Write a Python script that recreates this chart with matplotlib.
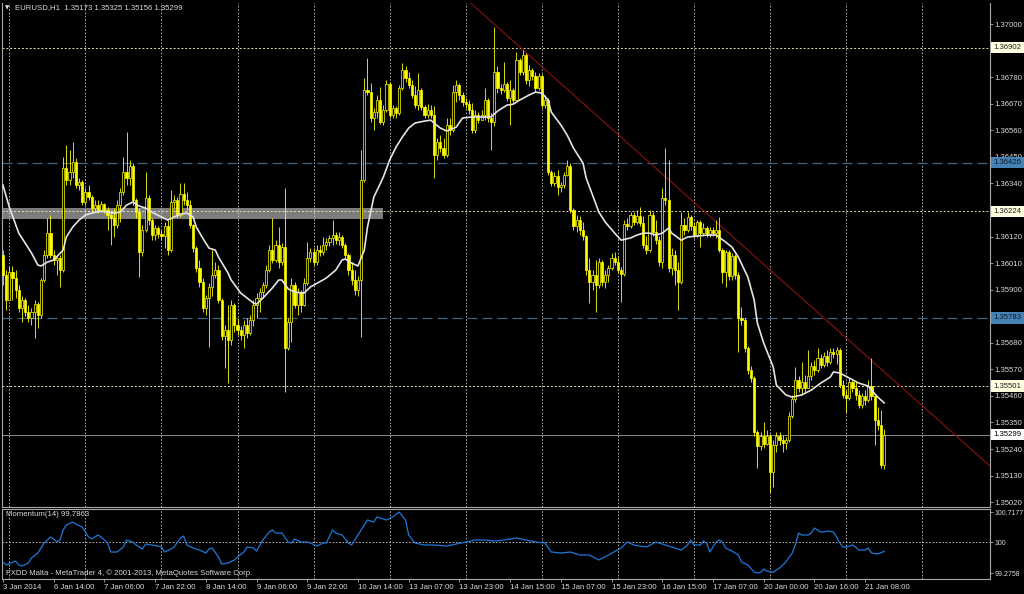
import numpy as np
import matplotlib
matplotlib.use("Agg")
import matplotlib.pyplot as plt
from matplotlib.transforms import blended_transform_factory

# ---- EURUSD H1 candles (bar 0 = first visible bar) ----
first_open = 1.36043
closes = [
    1.35961, 1.35857, 1.35973, 1.35948, 1.35898, 1.35824, 1.35857, 1.35807, 1.35783, 1.35807,
    1.35840, 1.35795, 1.35940, 1.36043, 1.36134, 1.36043, 1.36023, 1.36031, 1.35981, 1.36404,
    1.36354, 1.36387, 1.36428, 1.36333, 1.36346, 1.36263, 1.36304, 1.36283, 1.36238, 1.36250,
    1.36230, 1.36254, 1.36230, 1.36209, 1.36196, 1.36168, 1.36250, 1.36304, 1.36387, 1.36362,
    1.36412, 1.36271, 1.36221, 1.36056, 1.36147, 1.36279, 1.36188, 1.36126, 1.36155, 1.36130,
    1.36122, 1.36163, 1.36064, 1.36263, 1.36271, 1.36209, 1.36296, 1.36271, 1.36250, 1.36168,
    1.36072, 1.35990, 1.35932, 1.35824, 1.35865, 1.35911, 1.35961, 1.35981, 1.35857, 1.35708,
    1.35733, 1.35691, 1.35836, 1.35754, 1.35733, 1.35712, 1.35754, 1.35720, 1.35774, 1.35836,
    1.35865, 1.35890, 1.35919, 1.35981, 1.36064, 1.36023, 1.36085, 1.36014, 1.36076, 1.35658,
    1.35766, 1.35919, 1.35836, 1.35890, 1.35836, 1.35927, 1.36031, 1.36056, 1.36014, 1.36064,
    1.36056, 1.36085, 1.36097, 1.36114, 1.36126, 1.36105, 1.36118, 1.36085, 1.36043, 1.35981,
    1.35940, 1.35898, 1.35940, 1.36354, 1.36726, 1.36718, 1.36611, 1.36635, 1.36685, 1.36594,
    1.36644, 1.36751, 1.36623, 1.36652, 1.36631, 1.36735, 1.36809, 1.36776, 1.36747, 1.36706,
    1.36664, 1.36726, 1.36656, 1.36623, 1.36644, 1.36623, 1.36457, 1.36511, 1.36486, 1.36457,
    1.36582, 1.36561, 1.36718, 1.36747, 1.36706, 1.36677, 1.36668, 1.36644, 1.36561, 1.36623,
    1.36602, 1.36623, 1.36685, 1.36611, 1.36594, 1.36801, 1.36735, 1.36726, 1.36751, 1.36693,
    1.36726, 1.36685, 1.36851, 1.36801, 1.36871, 1.36768, 1.36809, 1.36784, 1.36735, 1.36784,
    1.36664, 1.36685, 1.36387, 1.36341, 1.36370, 1.36325, 1.36333, 1.36375, 1.36412, 1.36230,
    1.36163, 1.36188, 1.36147, 1.36122, 1.35981, 1.35932, 1.35961, 1.35919, 1.36014, 1.35932,
    1.35961, 1.35990, 1.36031, 1.36014, 1.35981, 1.35965, 1.36172, 1.36163, 1.36209, 1.36180,
    1.36205, 1.36176, 1.36085, 1.36064, 1.36209, 1.36139, 1.36105, 1.36014, 1.36279, 1.36271,
    1.35990, 1.36043, 1.35981, 1.35932, 1.36168, 1.36147, 1.36201, 1.36163, 1.36126, 1.36180,
    1.36134, 1.36155, 1.36130, 1.36147, 1.36134, 1.36147, 1.36064, 1.35973, 1.36056, 1.35956,
    1.36039, 1.35961, 1.35783, 1.35774, 1.35658, 1.35567, 1.35534, 1.35311, 1.35253, 1.35294,
    1.35261, 1.35294, 1.35145, 1.35257, 1.35294, 1.35277, 1.35265, 1.35277, 1.35377, 1.35447,
    1.35526, 1.35493, 1.35518, 1.35493, 1.35542, 1.35584, 1.35567, 1.35617, 1.35588, 1.35625,
    1.35600, 1.35642, 1.35633, 1.35650, 1.35505, 1.35464, 1.35451, 1.35518, 1.35493, 1.35464,
    1.35422, 1.35460, 1.35443, 1.35501, 1.35460, 1.35360, 1.35340, 1.35173, 1.35299,
]
highs = [
    1.36064, 1.35981, 1.35998, 1.35998, 1.35981, 1.35919, 1.35874, 1.35865, 1.35836, 1.35824,
    1.35857, 1.35849, 1.35948, 1.36064, 1.36196, 1.36209, 1.36064, 1.36043, 1.36043, 1.36449,
    1.36499, 1.36478, 1.36511, 1.36445, 1.36362, 1.36354, 1.36321, 1.36333, 1.36292, 1.36271,
    1.36271, 1.36267, 1.36259, 1.36242, 1.36230, 1.36238, 1.36271, 1.36321, 1.36449, 1.36553,
    1.36437, 1.36424, 1.36279, 1.36238, 1.36168, 1.36387, 1.36292, 1.36196, 1.36168, 1.36163,
    1.36147, 1.36180, 1.36188, 1.36312, 1.36292, 1.36283, 1.36341, 1.36341, 1.36304, 1.36271,
    1.36172, 1.36081, 1.36023, 1.35948, 1.35878, 1.35927, 1.36064, 1.36014, 1.36002, 1.35865,
    1.35754, 1.35836, 1.35857, 1.35845, 1.35783, 1.35749, 1.35774, 1.35783, 1.35795, 1.35857,
    1.35886, 1.35907, 1.35932, 1.36002, 1.36085, 1.36196, 1.36105, 1.36159, 1.36093, 1.36321,
    1.35783, 1.35948, 1.35932, 1.35907, 1.35898, 1.35948, 1.36097, 1.36072, 1.36072, 1.36085,
    1.36085, 1.36118, 1.36114, 1.36126, 1.36188, 1.36139, 1.36139, 1.36126, 1.36093, 1.36052,
    1.36014, 1.35981, 1.35956, 1.36478, 1.36776, 1.36859, 1.36755, 1.36652, 1.36706, 1.36739,
    1.36664, 1.36768, 1.36760, 1.36664, 1.36660, 1.36747, 1.36838, 1.36826, 1.36801, 1.36768,
    1.36743, 1.36797, 1.36735, 1.36664, 1.36668, 1.36664, 1.36660, 1.36528, 1.36540, 1.36528,
    1.36611, 1.36611, 1.36747, 1.36768, 1.36755, 1.36718, 1.36693, 1.36685, 1.36673, 1.36644,
    1.36635, 1.36644, 1.36735, 1.36693, 1.36631, 1.36987, 1.36826, 1.36751, 1.36842, 1.36760,
    1.36768, 1.36735, 1.36884, 1.36859, 1.36892, 1.36880, 1.36830, 1.36817, 1.36801, 1.36797,
    1.36793, 1.36706, 1.36693, 1.36395, 1.36387, 1.36395, 1.36346, 1.36387, 1.36437, 1.36424,
    1.36238, 1.36209, 1.36205, 1.36180, 1.36126, 1.36031, 1.35981, 1.36023, 1.36031, 1.36023,
    1.35981, 1.36002, 1.36052, 1.36056, 1.36039, 1.35994, 1.36188, 1.36196, 1.36221, 1.36221,
    1.36230, 1.36242, 1.36205, 1.36122, 1.36230, 1.36221, 1.36188, 1.36122, 1.36321, 1.36486,
    1.36437, 1.36072, 1.36064, 1.36014, 1.36221, 1.36196, 1.36221, 1.36209, 1.36180, 1.36188,
    1.36188, 1.36176, 1.36163, 1.36159, 1.36159, 1.36188, 1.36201, 1.36072, 1.36064, 1.36064,
    1.36052, 1.36047, 1.35973, 1.35828, 1.35783, 1.35667, 1.35584, 1.35542, 1.35319, 1.35311,
    1.35352, 1.35319, 1.35302, 1.35277, 1.35311, 1.35311, 1.35298, 1.35290, 1.35393, 1.35464,
    1.35580, 1.35542, 1.35600, 1.35546, 1.35650, 1.35600, 1.35609, 1.35658, 1.35633, 1.35642,
    1.35650, 1.35658, 1.35658, 1.35662, 1.35658, 1.35526, 1.35484, 1.35534, 1.35526, 1.35518,
    1.35484, 1.35472, 1.35484, 1.35526, 1.35617, 1.35464, 1.35414, 1.35402, 1.35325,
]
lows = [
    1.35919, 1.35816, 1.35857, 1.35857, 1.35865, 1.35807, 1.35766, 1.35791, 1.35766, 1.35754,
    1.35700, 1.35741, 1.35783, 1.35932, 1.36031, 1.36031, 1.36002, 1.35961, 1.35911, 1.35973,
    1.36333, 1.36333, 1.36362, 1.36321, 1.36312, 1.36250, 1.36250, 1.36271, 1.36221, 1.36221,
    1.36217, 1.36221, 1.36217, 1.36147, 1.36085, 1.36118, 1.36155, 1.36180, 1.36292, 1.36333,
    1.36333, 1.36250, 1.36196, 1.35952, 1.36039, 1.36139, 1.36168, 1.36105, 1.36105, 1.36114,
    1.36105, 1.36072, 1.36043, 1.36056, 1.36238, 1.36196, 1.36201, 1.36250, 1.36230, 1.36155,
    1.36056, 1.35973, 1.35911, 1.35807, 1.35795, 1.35662, 1.35874, 1.35948, 1.35845, 1.35691,
    1.35575, 1.35513, 1.35671, 1.35725, 1.35712, 1.35691, 1.35658, 1.35700, 1.35712, 1.35749,
    1.35783, 1.35807, 1.35865, 1.35907, 1.35973, 1.36010, 1.36014, 1.35990, 1.36002, 1.35476,
    1.35650, 1.35683, 1.35824, 1.35795, 1.35807, 1.35832, 1.35919, 1.36014, 1.36002, 1.36002,
    1.36039, 1.36043, 1.36064, 1.36081, 1.36085, 1.36089, 1.36085, 1.36072, 1.36031, 1.35961,
    1.35919, 1.35878, 1.35874, 1.35704, 1.36346, 1.36706, 1.36594, 1.36561, 1.36611, 1.36586,
    1.36582, 1.36635, 1.36611, 1.36611, 1.36611, 1.36623, 1.36726, 1.36760, 1.36735, 1.36693,
    1.36652, 1.36644, 1.36644, 1.36611, 1.36611, 1.36611, 1.36362, 1.36437, 1.36470, 1.36445,
    1.36449, 1.36540, 1.36553, 1.36677, 1.36685, 1.36660, 1.36652, 1.36627, 1.36548, 1.36548,
    1.36590, 1.36602, 1.36602, 1.36594, 1.36478, 1.36577, 1.36714, 1.36710, 1.36718, 1.36681,
    1.36582, 1.36673, 1.36685, 1.36789, 1.36789, 1.36751, 1.36743, 1.36768, 1.36718, 1.36726,
    1.36652, 1.36652, 1.36375, 1.36329, 1.36329, 1.36292, 1.36304, 1.36321, 1.36370, 1.36217,
    1.36147, 1.36139, 1.36126, 1.36105, 1.35961, 1.35845, 1.35898, 1.35807, 1.35907, 1.35915,
    1.35907, 1.35932, 1.35981, 1.36002, 1.35969, 1.35849, 1.35956, 1.36147, 1.36155, 1.36168,
    1.36172, 1.36163, 1.36072, 1.36047, 1.36056, 1.36122, 1.36089, 1.35998, 1.35990, 1.36250,
    1.35973, 1.35961, 1.35919, 1.35816, 1.35923, 1.36126, 1.36139, 1.36147, 1.36114, 1.36118,
    1.36076, 1.36122, 1.36118, 1.36118, 1.36122, 1.36114, 1.36056, 1.35927, 1.35911, 1.35940,
    1.35940, 1.35944, 1.35642, 1.35754, 1.35642, 1.35551, 1.35518, 1.35294, 1.35162, 1.35236,
    1.35244, 1.35257, 1.35062, 1.35083, 1.35228, 1.35257, 1.35228, 1.35240, 1.35269, 1.35369,
    1.35435, 1.35476, 1.35464, 1.35476, 1.35493, 1.35526, 1.35546, 1.35559, 1.35575, 1.35580,
    1.35584, 1.35592, 1.35617, 1.35592, 1.35493, 1.35451, 1.35393, 1.35443, 1.35476, 1.35443,
    1.35410, 1.35410, 1.35422, 1.35435, 1.35443, 1.35257, 1.35319, 1.35162, 1.35156,
]

# ---- moving average (white line) ----
ma_bar = [0, 2, 5, 9, 11, 12, 14, 16, 19, 20, 22, 24, 26, 28, 31, 33, 35, 37, 39, 41,
          43, 45, 47, 50, 52, 54, 56, 58, 60, 61, 63, 65, 67, 68, 71, 72, 75, 79, 80, 82,
          85, 87, 88, 90, 92, 95, 97, 102, 105, 107, 108, 110, 112, 114, 115, 117, 120, 122, 124, 126,
          128, 130, 133, 135, 136, 138, 140, 143, 145, 148, 150, 154, 156, 159, 161, 163, 166, 168, 170, 172,
          173, 176, 178, 180, 183, 184, 186, 188, 190, 193, 195, 198, 200, 202, 204, 206, 208, 210, 211, 214,
          216, 219, 222, 225, 228, 230, 232, 235, 237, 238, 240, 243, 244, 247, 249, 252, 255, 258, 261, 262,
          264, 267, 270, 273, 274, 276, 278]
ma_val = [1.36333, 1.36242, 1.36134, 1.36052, 1.36002, 1.35998, 1.36014, 1.36023, 1.36064, 1.36118,
          1.36159, 1.36188, 1.36209, 1.36217, 1.36225, 1.36221, 1.36217, 1.36221, 1.36250, 1.36263,
          1.36246, 1.36238, 1.36221, 1.36201, 1.36188, 1.36201, 1.36213, 1.36217, 1.36201, 1.36159,
          1.36114, 1.36072, 1.36064, 1.36035, 1.35969, 1.35940, 1.35886, 1.35845, 1.35840, 1.35865,
          1.35907, 1.35940, 1.35940, 1.35903, 1.35890, 1.35886, 1.35911, 1.35948, 1.35981, 1.36023,
          1.36027, 1.36010, 1.35998, 1.36064, 1.36159, 1.36283, 1.36366, 1.36437, 1.36490, 1.36532,
          1.36569, 1.36590, 1.36598, 1.36602, 1.36590, 1.36569, 1.36557, 1.36573, 1.36611, 1.36615,
          1.36615, 1.36615, 1.36639, 1.36664, 1.36668, 1.36685, 1.36706, 1.36718, 1.36714, 1.36685,
          1.36635, 1.36582, 1.36540, 1.36486, 1.36424, 1.36362, 1.36292, 1.36221, 1.36180, 1.36134,
          1.36105, 1.36114, 1.36126, 1.36134, 1.36134, 1.36126, 1.36134, 1.36155, 1.36134, 1.36105,
          1.36118, 1.36122, 1.36126, 1.36126, 1.36097, 1.36076, 1.36035, 1.35952, 1.35857, 1.35762,
          1.35679, 1.35580, 1.35505, 1.35464, 1.35455, 1.35464, 1.35484, 1.35513, 1.35538, 1.35559,
          1.35555, 1.35534, 1.35513, 1.35501, 1.35484, 1.35455, 1.35431]

# ---- Momentum(14) ----
mom_bar = [0, 1, 4, 5, 6, 8, 9, 11, 12, 13, 15, 16, 17, 18, 19, 20, 22, 23, 25, 26,
           27, 28, 30, 31, 33, 34, 36, 38, 39, 41, 42, 44, 45, 47, 49, 50, 51, 53, 54, 56,
           57, 58, 60, 62, 64, 65, 66, 68, 69, 71, 73, 74, 76, 77, 79, 80, 82, 84, 85, 86,
           88, 90, 91, 92, 94, 96, 97, 99, 101, 102, 104, 105, 107, 109, 110, 113, 115, 117, 118, 121,
           123, 125, 127, 128, 130, 133, 136, 140, 143, 146, 149, 152, 155, 158, 162, 165, 168, 171, 173, 176,
           179, 182, 185, 188, 191, 195, 197, 199, 203, 206, 209, 212, 214, 216, 217, 218, 220, 221, 222, 223,
           225, 226, 227, 228, 230, 232, 233, 235, 237, 238, 239, 240, 241, 243, 244, 245, 246, 247, 249, 250,
           251, 252, 254, 255, 256, 258, 259, 260, 262, 263, 264, 265, 266, 268, 269, 270, 272, 273, 274, 276,
           278]
mom_val = [99.536, 99.465, 99.559, 99.465, 99.441, 99.512, 99.630, 99.748, 99.867, 99.985,
           100.127, 100.080, 100.009, 100.056, 100.292, 100.410, 100.481, 100.434, 100.363, 100.245,
           100.127, 100.080, 100.174, 100.127, 99.985, 99.772, 99.772, 99.890, 100.056, 100.009,
           99.938, 99.843, 99.961, 99.938, 99.914, 99.890, 99.772, 99.843, 99.890, 100.103,
           100.151, 99.938, 99.867, 99.819, 99.748, 99.843, 99.867, 99.654, 99.488, 99.512,
           99.583, 99.654, 99.772, 99.890, 99.867, 99.796, 100.056, 100.245, 100.292, 100.221,
           100.221, 100.009, 99.985, 100.080, 100.009, 100.009, 99.985, 99.914, 99.985, 99.985,
           100.292, 100.221, 100.174, 99.985, 99.938, 100.292, 100.529, 100.481, 100.600, 100.529,
           100.600, 100.7177, 100.529, 100.174, 99.985, 99.938, 99.938, 99.914, 99.961, 100.009,
           100.056, 100.056, 100.032, 100.056, 100.103, 100.056, 100.009, 99.985, 99.772, 99.748,
           99.772, 99.701, 99.701, 99.583, 99.701, 99.867, 100.009, 99.938, 99.890, 100.009,
           99.938, 99.867, 99.819, 99.938, 100.056, 99.938, 99.938, 100.032, 99.985, 99.772,
           100.009, 100.056, 100.009, 99.867, 99.796, 99.701, 99.536, 99.465, 99.299, 99.2758,
           99.290, 99.370, 99.323, 99.290, 99.347, 99.394, 99.465, 99.536, 99.748, 99.938,
           100.221, 100.174, 100.174, 100.221, 100.340, 100.245, 100.245, 100.269, 100.245, 100.127,
           99.985, 99.890, 99.890, 99.938, 99.890, 99.819, 99.819, 99.867, 99.748, 99.725,
           99.7863]

# ---- chart objects ----
hl_yellow = [1.36902, 1.36224, 1.35501]      # dotted horizontal lines
hl_blue = [1.36426, 1.35783]                  # dashed horizontal lines
bid_price = 1.35299
band_price = (1.36191, 1.36237)               # grey rectangle
band_bars = (-1, 120)
trend_bars = (154, 284)
trend_prices = (1.37011, 1.35490)

price_ticks = [1.37000, 1.36780, 1.36670, 1.36560, 1.36450, 1.36340, 1.36120, 1.36010,
               1.35900, 1.35680, 1.35570, 1.35460, 1.35350, 1.35240, 1.35130, 1.35020]
mom_ticks = [99.2758, 100.0, 100.7177]
mom_tick_labels = ["99.2758", "100", "100.7177"]
time_labels = ["3 Jan 2014", "6 Jan 14:00", "7 Jan 06:00", "7 Jan 22:00", "8 Jan 14:00",
               "9 Jan 06:00", "9 Jan 22:00", "10 Jan 14:00", "13 Jan 07:00", "13 Jan 23:00",
               "14 Jan 15:00", "15 Jan 07:00", "15 Jan 23:00", "16 Jan 15:00", "17 Jan 07:00",
               "20 Jan 00:00", "20 Jan 16:00", "21 Jan 08:00"]
time_label_step = 16
grid_step = 24

plt.rcParams['font.family'] = ['Liberation Sans', 'DejaVu Sans']

W, H = 1024, 594
fig = plt.figure(figsize=(W / 100, H / 100), dpi=100, facecolor='black')


def px_box(x0, y0, x1, y1):
    return [x0 / W, 1 - y1 / H, (x1 - x0) / W, (y1 - y0) / H]


ax = fig.add_axes(px_box(2, 3, 990, 507))
axm = fig.add_axes(px_box(2, 509, 990, 579))

closes = np.array(closes)
highs = np.array(highs)
lows = np.array(lows)
opens = np.r_[first_open, closes[:-1]]
idx = np.arange(len(closes))
highs = np.maximum(highs, np.maximum(opens, closes))
lows = np.minimum(lows, np.minimum(opens, closes))

frame_col = '#A8A8A8'
txt_col = '#DADADA'
grid_col = '#C8C8C8'
fs = 5.6

for a in (ax, axm):
    a.set_facecolor('black')
    a.set_xlim(-0.3, 311.4)
    for s in a.spines.values():
        s.set_color(frame_col)
        s.set_linewidth(0.8)
    a.spines['top'].set_visible(a is axm)
    a.yaxis.tick_right()
    a.tick_params(axis='y', colors=frame_col, labelcolor=txt_col, labelsize=fs,
                  length=2.2, width=0.6, pad=1.0)
    a.tick_params(axis='x', colors=frame_col, labelcolor=txt_col, labelsize=fs,
                  length=2.2, width=0.6, pad=1.5)
    for b in range(2, 312, grid_step):
        a.axvline(b, color=grid_col, lw=0.6, ls=(0, (2, 2)), zorder=1)

ax.set_ylim(1.35000, 1.37087)
axm.set_ylim(99.134, 100.789)
ax.set_xticks([])

# background objects
ax.fill_between(band_bars, band_price[0], band_price[1], color='#7C7C7C', lw=0, zorder=0.5)
for p in hl_yellow:
    ax.axhline(p, color='#E6E2B4', lw=0.7, ls=(0, (2, 2)), zorder=1.2)
for p in hl_blue:
    ax.axhline(p, color='#3E6484', lw=0.9, ls=(0, (8, 4)), zorder=1.2)
ax.axhline(bid_price, color='#8A8A8A', lw=0.7, zorder=1.2)
ax.axline((trend_bars[0], trend_prices[0]), (trend_bars[1], trend_prices[1]),
          color='#8B1010', lw=0.8, zorder=1.3)

# candles
yellow = '#FFFF00'
up = closes >= opens
ax.vlines(idx, lows, highs, color=yellow, lw=0.6, zorder=2)
ax.bar(idx[up], closes[up] - opens[up], bottom=opens[up], width=0.68,
       color='black', edgecolor=yellow, lw=0.5, zorder=3)
ax.bar(idx[~up], closes[~up] - opens[~up], bottom=opens[~up], width=0.68,
       color=yellow, edgecolor=yellow, lw=0.5, zorder=3)

ax.plot(ma_bar, ma_val, color='#E4E4E4', lw=1.2, zorder=4)

# price scale
ax.set_yticks(price_ticks)
ax.set_yticklabels([f"{v:.5f}" for v in price_ticks])
ytr = blended_transform_factory(ax.transAxes, ax.transData)
boxes = [(p, '#FFFFE0', '#202020') for p in hl_yellow] + \
        [(p, '#4682B4', '#0A1A2A') for p in hl_blue] + [(bid_price, '#FFFFFF', '#000000')]
for p, fc, tc in boxes:
    ax.text(1.0035, p, f"{p:.5f}", transform=ytr, ha='left', va='center', fontsize=fs,
            color=tc, zorder=6, clip_on=False,
            bbox=dict(boxstyle='square,pad=0.28', fc=fc, ec='none'))

# momentum window
axm.axhline(100.0, color=grid_col, lw=0.6, ls=(0, (2, 2)), zorder=1)
axm.plot(mom_bar, mom_val, color='#1E78D8', lw=0.9, zorder=3)
axm.set_yticks(mom_ticks)
axm.set_yticklabels(mom_tick_labels)
axm.tick_params(axis='y', labelsize=5.0, pad=0.8)
axm.set_xticks(idx[::time_label_step])
axm.set_xticklabels(time_labels, ha='left')

# texts
fig.text(5 / W, 1 - 8 / H, "\u25BC", color=txt_col, fontsize=4, va='center',
         family=['DejaVu Sans'])
head = "EURUSD,H1  {:.5f} {:.5f} {:.5f} {:.5f}".format(opens[-1], highs[-1], lows[-1], closes[-1])
fig.text(15 / W, 1 - 8 / H, head, color=txt_col, fontsize=fs, va='center')
fig.text(6 / W, 1 - 515 / H, f"Momentum(14) {mom_val[-1]:.4f}", color=txt_col,
         fontsize=fs, va='center')
fig.text(6 / W, 1 - 573 / H, "FXDD Malta - MetaTrader 4, \u00a9 2001-2013, MetaQuotes Software Corp.",
         color=txt_col, fontsize=fs, va='center')

fig.savefig("out.png", dpi=100, facecolor='black')
